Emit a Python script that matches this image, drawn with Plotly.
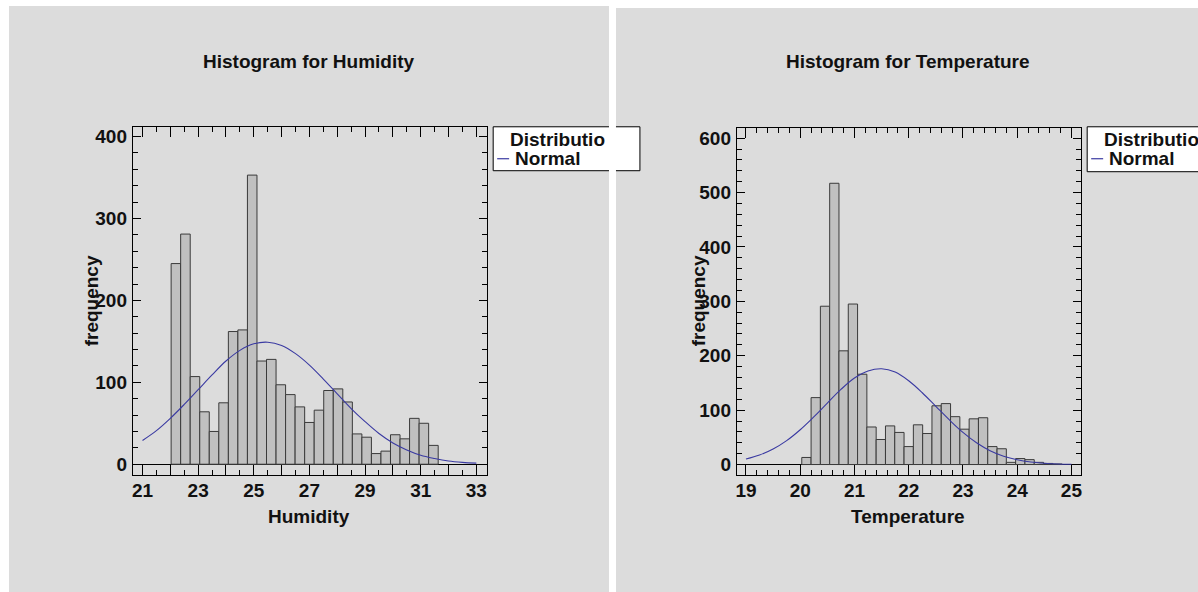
import plotly.graph_objects as go

W, H = 1198, 592

# ---------------- data ----------------
# Humidity: 35 classes between 21 and 33, first non-empty class index 3
hum_lower, hum_upper, hum_classes = 21.0, 33.0, 35
hum_first_class = 3
hum_counts = [245, 281, 107, 64, 40, 75, 162, 164, 353, 126, 128, 97, 85, 70,
              51, 66, 90, 92, 76, 37, 33, 13, 16, 36, 31, 56, 50, 23]
hum_curve_x = [21, 21.5, 22, 22.5, 23, 23.5, 24, 24.5, 25, 25.5, 26, 26.5, 27,
               27.5, 28, 28.5, 29, 29.5, 30, 30.5, 31, 31.5, 32, 32.5, 33]
hum_curve_y = [29, 41, 56, 73, 91, 109, 126, 139, 147, 149, 145, 135, 121,
               104, 86, 68, 52, 37.5, 26, 17.5, 11, 7, 4, 2.3, 1.3]
hum_xticks = [21, 22, 23, 24, 25, 26, 27, 28, 29, 30, 31, 32, 33]
hum_xlabels = ["21", "", "23", "", "25", "", "27", "", "29", "", "31", "", "33"]
hum_yticks = [0, 100, 200, 300, 400]

# Temperature: 35 classes between 19 and 25, first non-empty class index 6
temp_lower, temp_upper, temp_classes = 19.0, 25.0, 35
temp_first_class = 6
temp_counts = [13, 123, 291, 517, 209, 295, 166, 69, 46, 71, 59, 33, 73, 57,
               108, 112, 88, 65, 84, 86, 33, 29, 4, 11, 9, 4, 2, 1]
temp_curve_x = [19, 19.25, 19.5, 19.75, 20, 20.25, 20.5, 20.75, 21, 21.25,
                21.5, 21.75, 22, 22.25, 22.5, 22.75, 23, 23.25, 23.5, 23.75,
                24, 24.25, 24.5, 24.75, 25]
temp_curve_y = [10.1, 17.5, 28.6, 44, 64, 87.6, 113, 138, 159, 172, 176, 170,
                154, 132, 107, 82, 59, 40, 25.5, 15.4, 8.8, 4.7, 2.4, 1.1, 0.5]
temp_xticks = [19, 20, 21, 22, 23, 24, 25]
temp_xlabels = ["19", "20", "21", "22", "23", "24", "25"]
temp_yticks = [0, 100, 200, 300, 400, 500, 600]

titles = ["Histogram for Humidity", "Histogram for Temperature"]
xtitles = ["Humidity", "Temperature"]
ytitle = "frequency"
legend_title = "Distributio"
legend_item = "Normal"

# ---------------- styling ----------------
FONT = "Liberation Sans, Arial, sans-serif"
PANEL = "#dcdcdc"
BAR_FILL = "#c0c0c0"
BAR_LINE = "#3a3a3a"
CURVE = "#3a3aa2"
FS = 19


def px(x):
    return x / W


def py(y):
    return 1 - y / H


def bars(lower, upper, n, first, counts):
    w = (upper - lower) / n
    centers = [lower + (first + i + 0.5) * w for i in range(len(counts))]
    return centers, w


fig = go.Figure()

hx, hw = bars(hum_lower, hum_upper, hum_classes, hum_first_class, hum_counts)
tx, tw = bars(temp_lower, temp_upper, temp_classes, temp_first_class, temp_counts)

fig.add_trace(go.Bar(x=hx, y=hum_counts, width=hw, xaxis="x", yaxis="y",
                     marker=dict(color=BAR_FILL, line=dict(color=BAR_LINE, width=1)),
                     showlegend=False))
fig.add_trace(go.Scatter(x=hum_curve_x, y=hum_curve_y, mode="lines", xaxis="x", yaxis="y",
                         line=dict(color=CURVE, width=1.1, shape="spline"),
                         showlegend=False))
fig.add_trace(go.Bar(x=tx, y=temp_counts, width=tw, xaxis="x2", yaxis="y2",
                     marker=dict(color=BAR_FILL, line=dict(color=BAR_LINE, width=1)),
                     showlegend=False))
fig.add_trace(go.Scatter(x=temp_curve_x, y=temp_curve_y, mode="lines", xaxis="x2", yaxis="y2",
                         line=dict(color=CURVE, width=1.1, shape="spline"),
                         showlegend=False))

tickfont = dict(family=FONT, size=FS, color="#111111", weight="bold")


def xaxis(domain, rng, vals, labels, minor_dt, anchor):
    return dict(domain=domain, range=rng, tickmode="array", tickvals=vals, ticktext=labels,
                ticks="inside", ticklen=10, tickcolor="black", tickwidth=1,
                minor=dict(dtick=minor_dt, tick0=vals[0], ticks="inside", ticklen=5,
                           tickcolor="black", showgrid=False),
                showline=True, linecolor="black", linewidth=1, mirror="ticks",
                showgrid=False, zeroline=False, tickfont=tickfont, anchor=anchor,
                ticklabelstandoff=-2, fixedrange=True)


def yaxis(domain, rng, vals, anchor):
    return dict(domain=domain, range=rng, tickmode="array", tickvals=vals,
                ticks="inside", ticklen=8, tickcolor="black", tickwidth=1,
                minor=dict(dtick=20, tick0=0, ticks="inside", ticklen=5,
                           tickcolor="black", showgrid=False),
                showline=True, linecolor="black", linewidth=1, mirror="ticks",
                showgrid=False, zeroline=True, zerolinecolor="black", zerolinewidth=1,
                tickfont=tickfont, anchor=anchor, ticklabelstandoff=1, fixedrange=True)


fig.update_layout(
    width=W, height=H,
    margin=dict(l=0, r=0, t=0, b=0),
    paper_bgcolor="white", plot_bgcolor="white",
    bargap=0,
    xaxis=xaxis([px(132), px(487)], [20.65, 33.39], hum_xticks, hum_xlabels, 0.5, "y"),
    yaxis=yaxis([py(475), py(126)], [-13.4, 412], hum_yticks, "x"),
    xaxis2=xaxis([px(737), px(1082)], [18.83, 25.18], temp_xticks, temp_xlabels, 0.2, "y2"),
    yaxis2=yaxis([py(475), py(127)], [-19.6, 619], temp_yticks, "x2"),
    showlegend=False,
)

shapes = [
    dict(type="rect", xref="paper", yref="paper", x0=px(8), x1=px(609), y0=py(592), y1=py(5),
         fillcolor=PANEL, line=dict(width=0), layer="below"),
    dict(type="rect", xref="paper", yref="paper", x0=px(616), x1=px(1199), y0=py(592), y1=py(7),
         fillcolor=PANEL, line=dict(width=0), layer="below"),
    # legend boxes
    dict(type="rect", xref="paper", yref="paper", x0=px(493), x1=px(640), y0=py(170), y1=py(126),
         fillcolor="white", line=dict(color="black", width=1), layer="above"),
    dict(type="rect", xref="paper", yref="paper", x0=px(1088), x1=px(1230), y0=py(171), y1=py(126),
         fillcolor="white", line=dict(color="black", width=1), layer="above"),
    # white gap between the two panels
    dict(type="rect", xref="paper", yref="paper", x0=px(609), x1=px(616), y0=0, y1=1,
         fillcolor="white", line=dict(width=0), layer="above"),
    # legend line samples
    dict(type="line", xref="paper", yref="paper", x0=px(497), x1=px(509), y0=py(158), y1=py(158),
         line=dict(color=CURVE, width=1.2), layer="above"),
    dict(type="line", xref="paper", yref="paper", x0=px(1092), x1=px(1104), y0=py(158), y1=py(158),
         line=dict(color=CURVE, width=1.2), layer="above"),
]
fig.update_layout(shapes=shapes)

afont = dict(family=FONT, size=FS, color="#111111", weight="bold")
ann = []
for cx, t in zip([309, 909], titles):
    ann.append(dict(text=t, x=px(cx), y=py(61), xref="paper", yref="paper",
                    xanchor="center", yanchor="middle", showarrow=False, font=afont))
for cx, t in zip([309, 909], xtitles):
    ann.append(dict(text=t, x=px(cx), y=py(516), xref="paper", yref="paper",
                    xanchor="center", yanchor="middle", showarrow=False, font=afont))
for cx in [91, 699]:
    ann.append(dict(text=ytitle, x=px(cx), y=py(300), xref="paper", yref="paper",
                    xanchor="center", yanchor="middle", textangle=-90, showarrow=False, font=afont))
for bx in [493, 1088]:
    ann.append(dict(text=legend_title, x=px(bx + 15), y=py(139), xref="paper", yref="paper",
                    xanchor="left", yanchor="middle", showarrow=False, font=afont))
    ann.append(dict(text=legend_item, x=px(bx + 20), y=py(158), xref="paper", yref="paper",
                    xanchor="left", yanchor="middle", showarrow=False, font=afont))
fig.update_layout(annotations=ann)

fig.write_html("out.html",
               config={"displayModeBar": False, "staticPlot": True},
               post_script="document.body.style.margin='0';document.body.style.overflow='hidden';")
